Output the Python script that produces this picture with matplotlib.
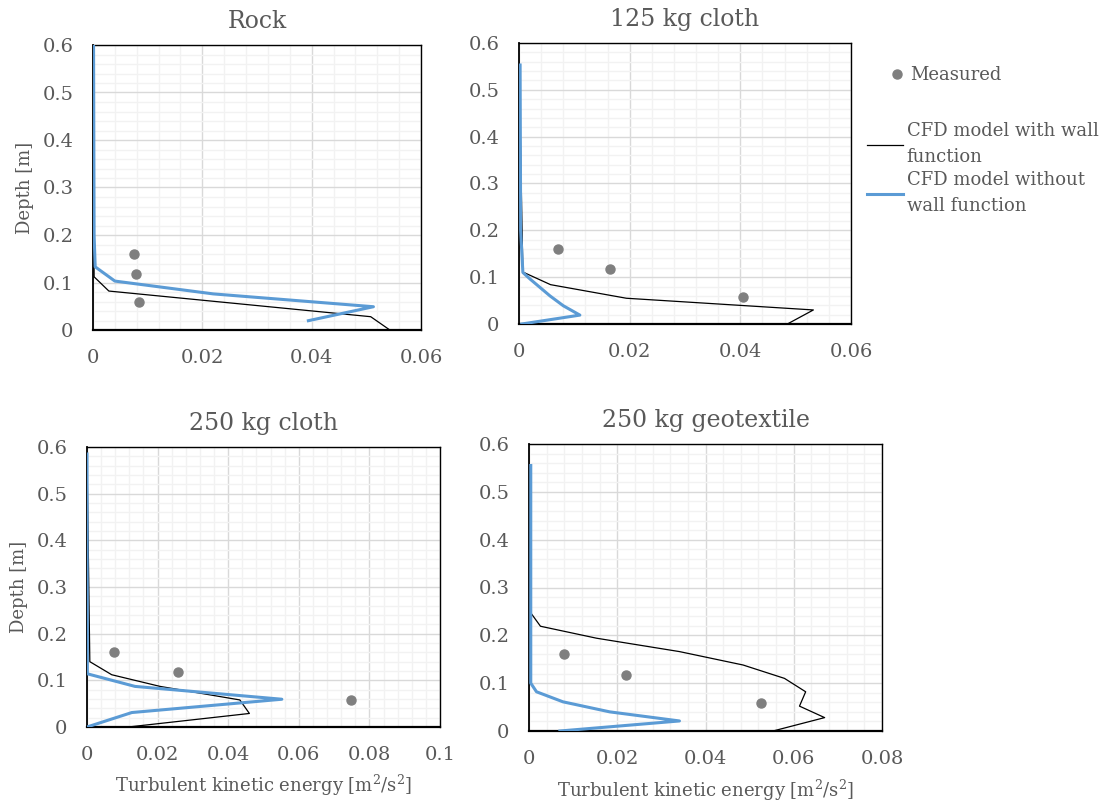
import numpy as np
import matplotlib
matplotlib.use('Agg')
import matplotlib.pyplot as plt
from matplotlib.ticker import MultipleLocator, FuncFormatter
from matplotlib.lines import Line2D

plt.rcParams['font.family'] = ['DejaVu Serif']
plt.rcParams['mathtext.fontset'] = 'dejavuserif'

# measured depths (same for every case)
meas_y = [0.16, 0.117, 0.058]

# Rock
rock_meas_x = [0.0075, 0.0078, 0.0084]
rock_wall_x = [0.0, 0.0002, 0.0029, 0.0508, 0.0543]
rock_wall_y = [0.59, 0.112, 0.082, 0.028, 0.0]
rock_nowall_x = [0.0001, 0.0002, 0.0004, 0.004, 0.022, 0.0513, 0.0394]
rock_nowall_y = [0.6, 0.2, 0.133, 0.103, 0.076, 0.049, 0.0196]

# 125 kg cloth
c125_meas_x = [0.0071, 0.0164, 0.0404]
c125_wall_x = [0.0, 0.0007, 0.0057, 0.0194, 0.0532, 0.0485]
c125_wall_y = [0.553, 0.111, 0.084, 0.055, 0.030, 0.0]
c125_nowall_x = [0.0002, 0.0003, 0.0007, 0.002, 0.0056, 0.008, 0.011, 0.0005]
c125_nowall_y = [0.553, 0.2, 0.11, 0.096, 0.06, 0.039, 0.019, 0.0]

# 250 kg cloth
c250_meas_x = [0.0077, 0.0259, 0.0747]
c250_wall_x = [0.0, 0.0008, 0.007, 0.0207, 0.0433, 0.046, 0.0117]
c250_wall_y = [0.58, 0.14, 0.112, 0.087, 0.058, 0.029, 0.0]
c250_nowall_x = [0.0, 0.0001, 0.0136, 0.0552, 0.0127, 0.0]
c250_nowall_y = [0.585, 0.114, 0.087, 0.0595, 0.031, 0.0]

# 250 kg geotextile
geo_meas_x = [0.0079, 0.0219, 0.0526]
geo_wall_x = [0.0, 0.0004, 0.0026, 0.0153, 0.0341, 0.0485, 0.0579, 0.0627, 0.0613, 0.067, 0.0553]
geo_wall_y = [0.555, 0.247, 0.219, 0.194, 0.166, 0.138, 0.11, 0.082, 0.052, 0.028, 0.0]
geo_nowall_x = [0.0004, 0.0004, 0.0017, 0.0077, 0.0183, 0.0341, 0.007]
geo_nowall_y = [0.555, 0.1, 0.082, 0.061, 0.04, 0.021, 0.0]

txt = '#595959'
blue = '#5B9BD5'
gray = '#7F7F7F'

fig = plt.figure(figsize=(11.15, 8.07), dpi=100)

panels = [
    ('Rock', [93/1115, 1-330/807, 328/1115, 285/807], 0.06,
     rock_meas_x, rock_wall_x, rock_wall_y, rock_nowall_x, rock_nowall_y, True, None),
    ('125 kg cloth', [519/1115, 1-324/807, 332/1115, 281/807], 0.06,
     c125_meas_x, c125_wall_x, c125_wall_y, c125_nowall_x, c125_nowall_y, False, None),
    ('250 kg cloth', [87/1115, 1-727/807, 353/1115, 280/807], 0.1,
     c250_meas_x, c250_wall_x, c250_wall_y, c250_nowall_x, c250_nowall_y, True, 6),
    ('250 kg geotextile', [529/1115, 1-731/807, 353/1115, 287/807], 0.08,
     geo_meas_x, geo_wall_x, geo_wall_y, geo_nowall_x, geo_nowall_y, False, 7),
]

fmt = FuncFormatter(lambda v, p: f'{v:g}')

for title, rect, xmax, mx, wx, wy, nx, ny, ylab, xlab in panels:
    ax = fig.add_axes(rect)
    ax.set_xlim(0, xmax)
    ax.set_ylim(0, 0.6)
    ax.xaxis.set_major_locator(MultipleLocator(0.02))
    ax.xaxis.set_minor_locator(MultipleLocator(0.004))
    ax.yaxis.set_major_locator(MultipleLocator(0.1))
    ax.yaxis.set_minor_locator(MultipleLocator(0.02))
    ax.xaxis.set_major_formatter(fmt)
    ax.yaxis.set_major_formatter(fmt)
    ax.grid(which='major', color='#D9D9D9', lw=1)
    ax.grid(which='minor', color='#F2F2F2', lw=1)
    ax.set_axisbelow(True)
    ax.tick_params(which='both', length=0, labelsize=14, colors=txt, pad=14)
    for s in ax.spines.values():
        s.set_color('black')
        s.set_linewidth(1)
    ax.spines['bottom'].set_linewidth(1.6)
    ax.spines['left'].set_linewidth(1.3)

    ax.plot(wx, wy, color='black', lw=0.9, zorder=3)
    ax.plot(nx, ny, color=blue, lw=2.2, zorder=4)
    ax.plot(mx, meas_y, 'o', color=gray, ms=6.5, zorder=5)

    ax.set_title(title, fontsize=17, color=txt, pad=12)
    if ylab:
        ax.set_ylabel('Depth [m]', fontsize=13, color=txt, labelpad=6)
    if xlab is not None:
        ax.set_xlabel(r'Turbulent kinetic energy [m$^2$/s$^2$]', fontsize=13, color=txt,
                      labelpad=xlab)

h_meas = Line2D([], [], marker='o', ls='none', color=gray, ms=6.5)
h_wall = Line2D([], [], color='black', lw=0.9)
h_nowall = Line2D([], [], color=blue, lw=2.2)

fig.legend([h_meas], ['Measured'], loc='center left', bbox_to_anchor=(890/1115, 1-75/807),
           frameon=False, fontsize=13, labelcolor=txt, handlelength=0.8,
           handletextpad=0.3, borderpad=0, borderaxespad=0)
leg2 = fig.legend([h_wall, h_nowall], ['CFD model with wall\nfunction', 'CFD model without\nwall function'],
                  loc='upper left', bbox_to_anchor=(867/1115, 1-122/807),
                  frameon=False, fontsize=13, labelcolor=txt, handlelength=2.0,
                  handletextpad=0.2, labelspacing=0.3, borderpad=0, borderaxespad=0)
for t in leg2.get_texts():
    t.set_linespacing(1.55)

fig.savefig('out.png', dpi=100)
